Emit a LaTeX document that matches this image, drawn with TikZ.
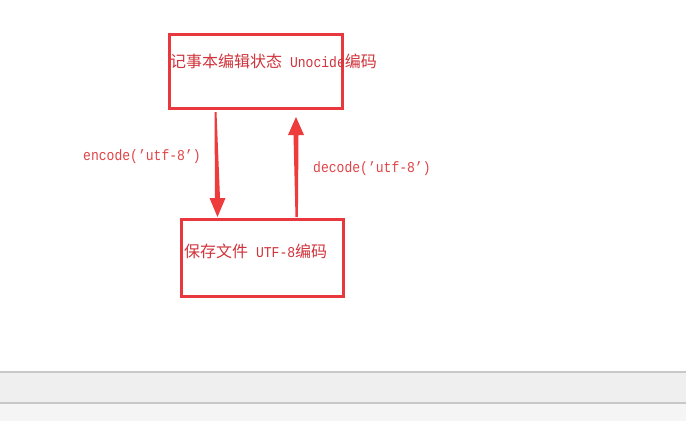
\documentclass[tikz,border=0pt]{standalone}
\usepackage{fontspec}
\newfontfamily\monoc[FakeStretch=0.87]{Liberation Mono}
\newfontfamily\cjk{Noto Sans CJK SC}
\usetikzlibrary{calc}
\definecolor{boxred}{HTML}{E8383D}
\definecolor{txtred}{HTML}{D0343C}
\definecolor{lblred}{HTML}{E04448}
\definecolor{arrred}{HTML}{EE3B3B}
\definecolor{bandline}{HTML}{C8C8C8}
\definecolor{band}{HTML}{EFEFEF}
\definecolor{bandlow}{HTML}{F5F5F5}
\newcommand{\latinpart}[1]{{\monoc\fontsize{15pt}{17pt}\selectfont #1}}
\tikzset{
  redbox/.style={draw=boxred, line width=3pt, rectangle, inner sep=0pt},
  boxtext/.style={text=txtred, anchor=west, inner sep=0pt, font=\cjk\fontsize{16pt}{18pt}\selectfont},
  lbl/.style={text=lblred, anchor=west, inner sep=0pt, font=\monoc\fontsize{15pt}{17pt}\selectfont},
  bigarrow/.style={fill=arrred, draw=none}
}
\begin{document}
\begin{tikzpicture}[x=1pt,y=-1pt]
\useasboundingbox (0,0) rectangle (686,421);
\fill[white] (0,0) rectangle (686,421);
\fill[bandline] (0,371) rectangle (686,373);
\fill[band] (0,373) rectangle (686,402);
\fill[bandline] (0,402) rectangle (686,404);
\fill[bandlow] (0,404) rectangle (686,421);
% boxes
\node[redbox, minimum width=173pt, minimum height=74pt] (b1) at (256,71.5) {};
\node[redbox, minimum width=162pt, minimum height=77pt] (b2) at (262.5,258) {};
% texts
\node[boxtext] (t1) at (170,61) {记事本编辑状态\latinpart{\ Unocide}编码};
\node[boxtext] (t2) at (184,251) {保存文件\latinpart{\ UTF-8}编码};
% arrow anchors
\coordinate (e1) at (215.5,112);
\coordinate (e2) at (217.5,217);
\coordinate (d1) at (296.7,217);
\coordinate (d2) at (296,117);
% encode arrow (tapered shaft, downwards)
\fill[bigarrow] ($(e1)+(-1,0)$) -- ($(e2)+(-2.5,-19)$) -- ($(e2)+(-8,-19)$) -- (e2)
  -- ($(e2)+(8,-19)$) -- ($(e2)+(2.5,-19)$) -- ($(e1)+(1,0)$) -- cycle;
% decode arrow (tapered shaft, upwards)
\fill[bigarrow] ($(d1)+(-1.2,0)$) -- ($(d2)+(-2.5,18)$) -- ($(d2)+(-8,18)$) -- (d2)
  -- ($(d2)+(8,18)$) -- ($(d2)+(2.5,18)$) -- ($(d1)+(1.2,0)$) -- cycle;
% labels
\node[lbl] (l1) at (83,157) {encode(’utf-8’)};
\node[lbl] (l2) at (313,169) {decode(’utf-8’)};
\end{tikzpicture}
\end{document}
